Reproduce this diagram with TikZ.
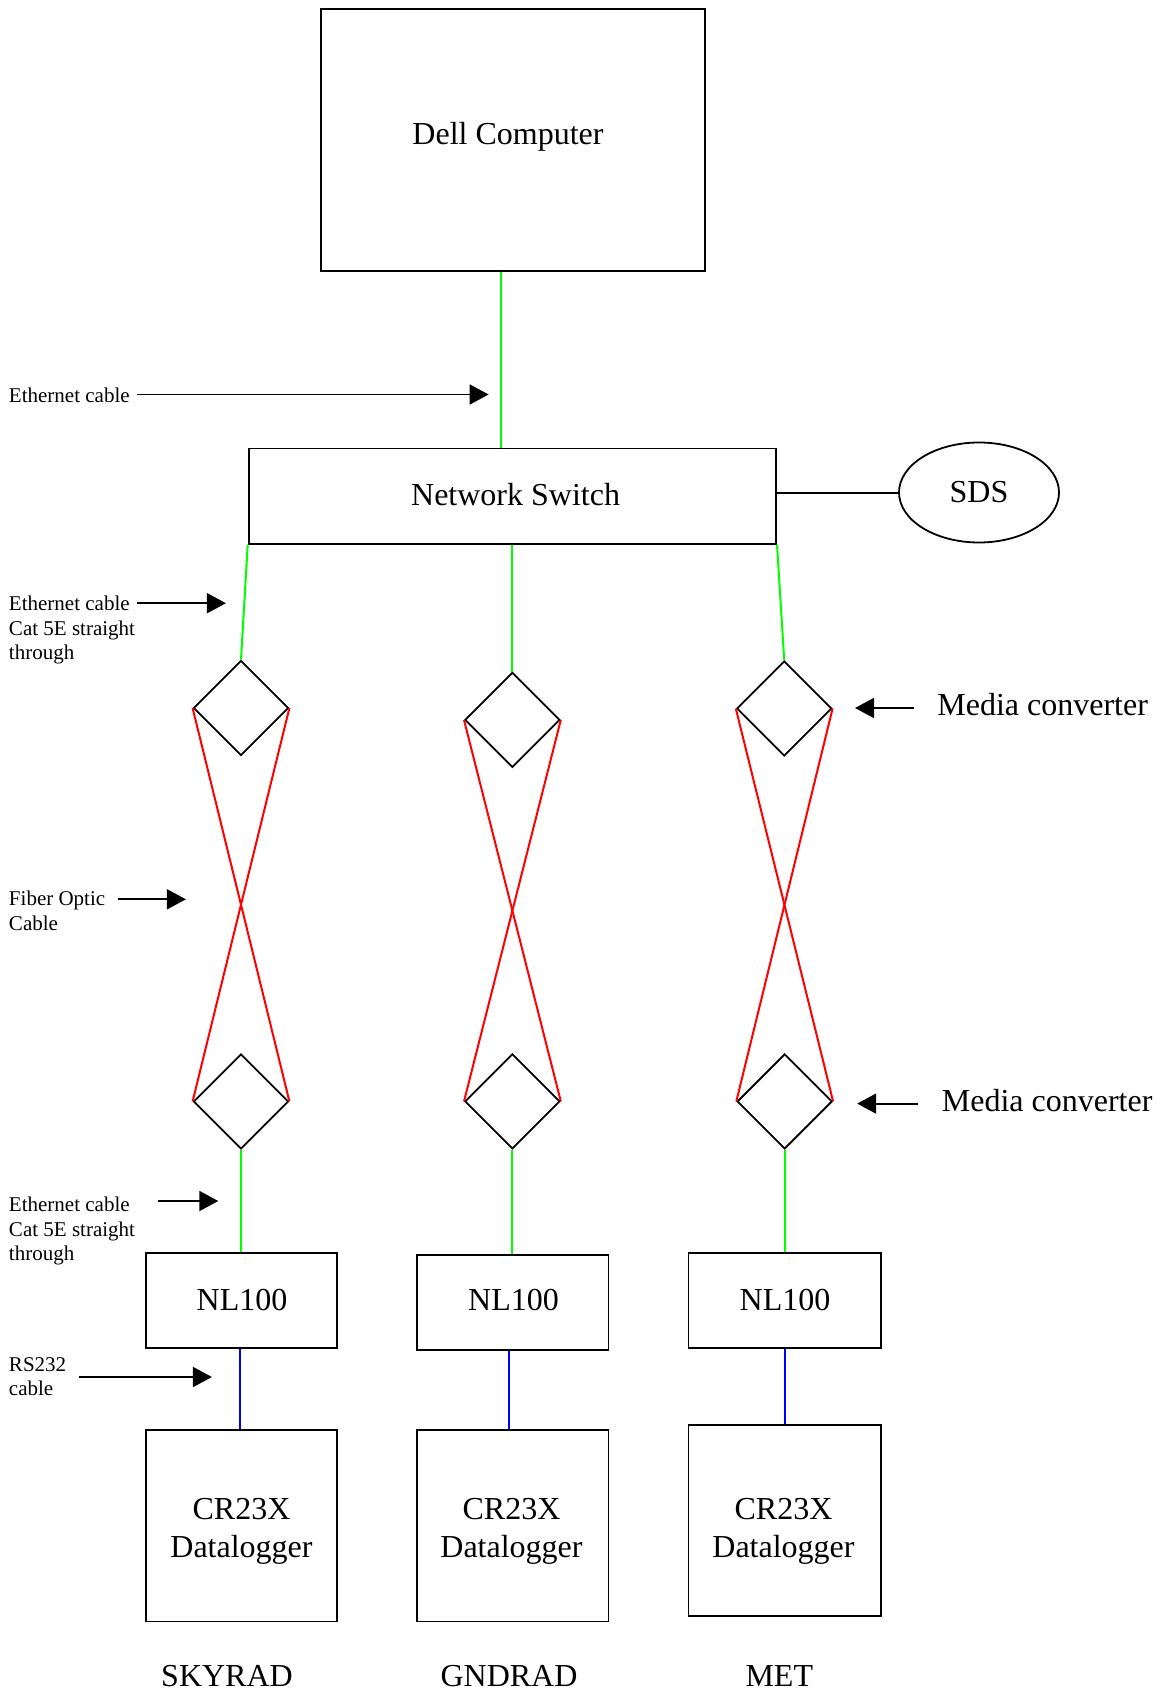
\documentclass[tikz,border=0pt]{standalone}
\usepackage{fontspec}
\setmainfont{Liberation Serif}
\usetikzlibrary{shapes.geometric,arrows.meta}
\newcommand\bigf{\fontsize{16}{19.1}\selectfont}
\newcommand\smallf{\fontsize{10.5}{12.2}\selectfont}
\begin{document}
\begin{tikzpicture}[x=0.5pt,y=-0.5pt,
  box/.style={draw,line width=0.9pt,inner sep=0pt},
  dia/.style={draw,diamond,line width=0.9pt,minimum width=47.5pt,minimum height=47.5pt,inner sep=0pt,aspect=1},
  lab/.style={font=\smallf,align=left,inner sep=0pt},
  big/.style={font=\bigf,inner sep=0pt,align=center},
  arr/.style={line width=0.9pt,-{Triangle[length=9.5pt,width=10pt]}},
  eth/.style={draw=green,line width=1pt},
  fib/.style={draw=red,line width=1pt},
  rs/.style={draw=blue,line width=1pt},
  blk/.style={draw=black,line width=1pt}]
\fill[white] (0,0) rectangle (1162,1695);
\useasboundingbox (0,0) rectangle (1162,1695);

% main boxes
\node[box,minimum width=191.9pt,minimum height=131.35pt] (dell) at (512.9,140) {};
\node[big] (dellt) at (508,137) {Dell Computer};
\node[box,minimum width=263.75pt,minimum height=47.55pt] (sw) at (512.35,496.15) {};
\node[big] (swt) at (515.6,495) {Network Switch};
\node[draw,ellipse,line width=0.9pt,minimum width=80pt,minimum height=50pt,inner sep=0pt,font=\bigf] (sds) at (979,492.5) {SDS};

\node[dia] (t1) at (241,708) {};
\node[dia] (t2) at (512.4,719.9) {};
\node[dia] (t3) at (784.2,708.5) {};
\node[dia] (b1) at (241,1101.4) {};
\node[dia] (b2) at (512.4,1101.4) {};
\node[dia] (b3) at (784.7,1101.4) {};

\node[box,minimum width=95.65pt,minimum height=47.55pt] (n1) at (241.55,1300.35) {};
\node[box,minimum width=95.65pt,minimum height=47.55pt] (n2) at (512.85,1302.5) {};
\node[box,minimum width=96.25pt,minimum height=47.55pt] (n3) at (784.75,1300.35) {};
\node[big] (n1t) at (242,1300) {NL100};
\node[big] (n2t) at (513.5,1300) {NL100};
\node[big] (n3t) at (785,1300) {NL100};

\node[box,minimum width=95.65pt,minimum height=95.7pt] (c1) at (241.55,1525.7) {};
\node[box,minimum width=95.65pt,minimum height=95.7pt] (c2) at (512.85,1525.7) {};
\node[box,minimum width=96.25pt,minimum height=95.7pt] (c3) at (784.75,1520.3) {};
\node[big] (c1t) at (241.5,1531) {CR23X\\Datalogger};
\node[big] (c2t) at (511.5,1531) {CR23X\\Datalogger};
\node[big] (c3t) at (783.5,1531) {CR23X\\Datalogger};

\node[big] (sky) at (227,1676.5) {SKYRAD};
\node[big] (gnd) at (509,1676.5) {GNDRAD};
\node[big] (met) at (779.3,1676.5) {MET};

% connectors
\coordinate (gx) at (500.5,0);
\draw[eth] (dell.south -| gx) -- (sw.north -| gx);
\draw[blk] (sds.west) -- (sds.west -| sw.east);
\draw[eth] (sw.south west) -- (t1.north);
\draw[eth] (sw.south -| t2.north) -- (t2.north);
\draw[eth] (sw.south east) -- (t3.north);

\draw[fib] (t1.west) -- (b1.east);
\draw[fib] (t1.east) -- (b1.west);
\draw[fib] (t2.west) -- (b2.east);
\draw[fib] (t2.east) -- (b2.west);
\draw[fib] (t3.west) -- (b3.east);
\draw[fib] (t3.east) -- (b3.west);

\draw[eth] (b1.south) -- (b1.south |- n1.north);
\draw[eth] (b2.south) -- (b2.south |- n2.north);
\draw[eth] (b3.south) -- (b3.south |- n3.north);

\coordinate (bx1) at (240,0);
\coordinate (bx2) at (509,0);
\draw[rs] (n1.south -| bx1) -- (c1.north -| bx1);
\draw[rs] (n2.south -| bx2) -- (c2.north -| bx2);
\draw[rs] (n3.south) -- (c3.north);

% labels with arrows
\node[lab,anchor=west] (l1) at (8.6,395.6) {Ethernet cable};
\coordinate (s1) at (137.3,394.5);
\coordinate (a1) at (488.6,394.5);
\draw[arr] (s1) -- (a1);

\node[lab,anchor=north west] (l2) at (8.6,596) {Ethernet cable\\Cat 5E straight\\through};
\coordinate (s2) at (137.3,603.2);
\coordinate (a2) at (225.9,603.2);
\draw[arr] (s2) -- (a2);

\node[lab,anchor=north west] (l3) at (8.6,891) {Fiber Optic\\Cable};
\coordinate (s3) at (117.8,899.3);
\coordinate (a3) at (185.9,899.3);
\draw[arr] (s3) -- (a3);

\node[lab,anchor=north west] (l4) at (8.6,1197) {Ethernet cable\\Cat 5E straight\\through};
\coordinate (s4) at (157.8,1201);
\coordinate (a4) at (218.3,1201);
\draw[arr] (s4) -- (a4);

\node[lab,anchor=north west] (l5) at (8.6,1357) {RS232\\cable};
\coordinate (s5) at (78.9,1377);
\coordinate (a5) at (211.9,1377);
\draw[arr] (s5) -- (a5);

\node[big,anchor=west] (m1) at (937,704.8) {Media converter};
\coordinate (s6) at (914.4,708);
\coordinate (a6) at (855,708);
\draw[arr] (s6) -- (a6);

\node[big,anchor=west] (m2) at (941.5,1100.3) {Media converter};
\coordinate (s7) at (917.7,1103.6);
\coordinate (a7) at (857.2,1103.6);
\draw[arr] (s7) -- (a7);
\end{tikzpicture}
\end{document}
